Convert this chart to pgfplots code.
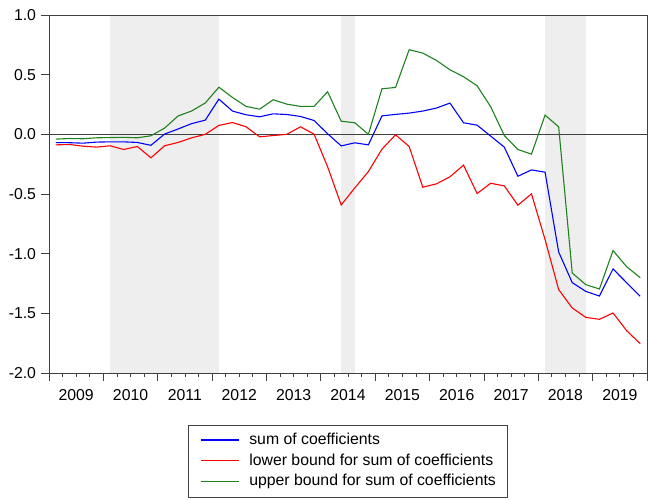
\documentclass[border=0pt]{standalone}
\usepackage{fontspec}
\setmainfont{Liberation Sans}
\usepackage{pgfplots}
\pgfplotsset{compat=1.18}
\definecolor{shade}{RGB}{238,238,238}
\definecolor{sblue}{RGB}{0,0,255}
\definecolor{sred}{RGB}{255,0,0}
\definecolor{sgreen}{RGB}{30,130,30}
\definecolor{axc}{RGB}{64,64,64}
\pgfplotstableread{
i sum lower upper
0.5 -0.070 -0.088 -0.040
1.5 -0.070 -0.085 -0.035
2.5 -0.074 -0.099 -0.037
3.5 -0.065 -0.107 -0.029
4.5 -0.063 -0.096 -0.027
5.5 -0.063 -0.127 -0.025
6.5 -0.068 -0.102 -0.029
7.5 -0.092 -0.197 -0.012
8.5 0.002 -0.096 0.052
9.5 0.045 -0.068 0.154
10.5 0.090 -0.029 0.196
11.5 0.119 0.000 0.263
12.5 0.295 0.075 0.395
13.5 0.195 0.099 0.309
14.5 0.164 0.063 0.234
15.5 0.147 -0.021 0.211
16.5 0.172 -0.010 0.290
17.5 0.166 0.000 0.253
18.5 0.150 0.063 0.234
19.5 0.116 0.002 0.234
20.5 0.005 -0.272 0.357
21.5 -0.097 -0.592 0.110
22.5 -0.071 -0.449 0.097
23.5 -0.088 -0.312 0.000
24.5 0.155 -0.124 0.382
25.5 0.167 -0.004 0.393
26.5 0.178 -0.102 0.709
27.5 0.195 -0.443 0.681
28.5 0.220 -0.415 0.620
29.5 0.262 -0.356 0.541
30.5 0.097 -0.258 0.483
31.5 0.077 -0.496 0.407
32.5 -0.015 -0.410 0.231
33.5 -0.107 -0.432 -0.010
34.5 -0.351 -0.594 -0.127
35.5 -0.298 -0.499 -0.166
36.5 -0.317 -0.882 0.161
37.5 -0.986 -1.301 0.063
38.5 -1.243 -1.455 -1.162
39.5 -1.316 -1.534 -1.260
40.5 -1.355 -1.550 -1.296
41.5 -1.128 -1.497 -0.974
42.5 -1.243 -1.645 -1.109
43.5 -1.357 -1.754 -1.201
}\datatable
\begin{document}
\fontsize{15.8pt}{19pt}\selectfont
\begin{tikzpicture}
\path[use as bounding box] (-49pt,-126pt) rectangle (601pt,373pt);
\begin{axis}[
  at={(0pt,0pt)}, anchor=south west,
  scale only axis, width=598pt, height=358pt,
  xmin=0, xmax=44, ymin=-2, ymax=1,
  axis on top,
  font=\fontsize{15.8pt}{19pt}\selectfont,
  axis line style={draw=axc, line width=0.9pt},
  tick style={draw=axc, line width=0.8pt},
  tick align=outside, xtick pos=bottom, ytick pos=left,
  major tick length=7.5pt, minor tick length=4pt,
  xtick={0,4,8,12,16,20,24,28,32,36,40,44},
  x tick label as interval,
  xticklabels={2009,2010,2011,2012,2013,2014,2015,2016,2017,2018,2019},
  minor x tick num=3,
  ytick={-2,-1.5,-1,-0.5,0,0.5,1},
  yticklabel style={/pgf/number format/.cd, fixed, fixed zerofill, precision=1, assume math mode=true},
  xticklabel style={/pgf/number format/assume math mode=true, yshift=-3pt},
  legend style={at={(0.5,-0.145)}, anchor=north, draw=axc, line width=0.8pt,
    inner xsep=12pt, inner ysep=7.5pt, column sep=10pt, row sep=5.8pt,
    nodes={inner sep=0pt, text height=11.5pt, text depth=3.5pt}},
  legend cell align=left,
  legend image code/.code={\draw[#1, line width=1.2pt] (0pt,0.3pt) -- (38pt,0.3pt);},
]
\addplot[fill=shade, draw=none, forget plot] coordinates {(4.5,-2) (12.5,-2) (12.5,1) (4.5,1)} \closedcycle;
\addplot[fill=shade, draw=none, forget plot] coordinates {(21.5,-2) (22.5,-2) (22.5,1) (21.5,1)} \closedcycle;
\addplot[fill=shade, draw=none, forget plot] coordinates {(36.5,-2) (39.5,-2) (39.5,1) (36.5,1)} \closedcycle;
\addplot[axc, line width=0.9pt, forget plot] coordinates {(0,0) (44,0)};
\addplot[draw=sblue, line width=1.1pt] table[x=i, y=sum] {\datatable};
\addlegendentry{sum of coefficients}
\addplot[draw=sred, line width=1.1pt] table[x=i, y=lower] {\datatable};
\addlegendentry{lower bound for sum of coefficients}
\addplot[draw=sgreen, line width=1.1pt] table[x=i, y=upper] {\datatable};
\addlegendentry{upper bound for sum of coefficients}
\end{axis}
\end{tikzpicture}
\end{document}
